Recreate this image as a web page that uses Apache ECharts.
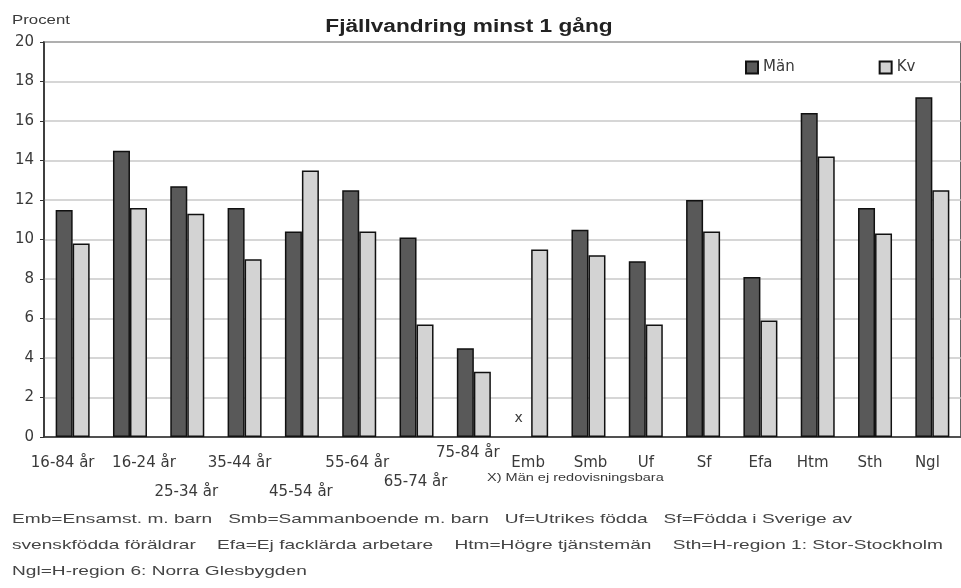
<!DOCTYPE html>
<html>
<head>
<meta charset="utf-8">
<script src="https://cdn.jsdelivr.net/npm/echarts@6/dist/echarts.min.js"></script>
<style>
  html, body { margin: 0; padding: 0; background: #fff; }
  #chart { width: 961px; height: 588px; }
</style>
</head>
<body>
<div id="chart"></div>
<script>
// Andel som vandrat i fjällen minst en gång, procent
const categories = ['16-84 år', '16-24 år', '25-34 år', '35-44 år', '45-54 år', '55-64 år', '65-74 år', '75-84 år',
                    'Emb', 'Smb', 'Uf', 'Sf', 'Efa', 'Htm', 'Sth', 'Ngl'];
const man = [11.5, 14.5, 12.7, 11.6, 10.4, 12.5, 10.1, 4.5, null, 10.5, 8.9, 12.0, 8.1, 16.4, 11.6, 17.2];
const kv  = [9.8, 11.6, 11.3, 9.0, 13.5, 10.4, 5.7, 3.3, 9.5, 9.2, 5.7, 10.4, 5.9, 14.2, 10.3, 12.5];
const yTicks = [0, 2, 4, 6, 8, 10, 12, 14, 16, 18, 20];
const seriesNames = ['Män', 'Kv'];
const missingMark = 'x';

const titleText = 'Fjällvandring minst 1 gång';
const unitText = 'Procent';
const missingNote = 'X) Män ej redovisningsbara';
const footnotes = [
  'Emb=Ensamst. m. barn   Smb=Sammanboende m. barn   Uf=Utrikes födda   Sf=Födda i Sverige av',
  'svenskfödda föräldrar    Efa=Ej facklärda arbetare    Htm=Högre tjänstemän    Sth=H-region 1: Stor-Stockholm',
  'Ngl=H-region 6: Norra Glesbygden'
];

// Label placement: [dx, dy] per category (staggered rows)
const labelShift = {
  '16-84 år': [-10, 0], '16-24 år': [14, 0], '25-34 år': [-1, 29], '35-44 år': [-5, 0],
  '45-54 år': [-1, 29], '55-64 år': [-2, 0], '65-74 år': [-1, 19], '75-84 år': [-6, -10],
  'Emb': [-3, 0], 'Smb': [2, 0], 'Sf': [1, 0], 'Htm': [-5, 0], 'Sth': [-5, 0], 'Ngl': [-5, 0]
};
const baseTop = 19;

const font = '"Liberation Sans", Arial, sans-serif';
const axisFont = '"DejaVu Sans", Verdana, sans-serif';
const textColor = '#3a3a3a';

const xData = categories.map(function (c) {
  const s = labelShift[c] || [0, 0];
  const dx = s[0], dy = s[1];
  return {
    value: c,
    textStyle: {
      padding: [baseTop + dy, dx < 0 ? -2 * dx : 0, 0, dx > 0 ? 2 * dx : 0]
    }
  };
});

const manData = man.map(function (v) {
  if (v === null) {
    return {
      value: 0,
      itemStyle: { borderWidth: 0, color: 'rgba(0,0,0,0)' },
      label: { show: true, formatter: missingMark, position: 'top', distance: 12, offset: [-4, 0],
               fontSize: 14, color: textColor, fontFamily: axisFont }
    };
  }
  return v;
});

const chart = echarts.init(document.getElementById('chart'), null, { renderer: 'canvas' });
chart.setOption({
  backgroundColor: '#ffffff',
  animation: false,
  legend: {
    data: seriesNames,
    left: 745, top: 60, padding: 0,
    itemWidth: 12, itemHeight: 12, itemGap: 84,
    icon: 'rect',
    textStyle: { fontFamily: axisFont, fontSize: 15, color: textColor }
  },
  grid: {
    left: 44, width: 928, top: 42, bottom: 151,
    show: true, borderColor: '#333', borderWidth: 1.5, backgroundColor: 'transparent'
  },
  xAxis: {
    type: 'category',
    data: xData,
    axisLine: { show: true, lineStyle: { color: '#333', width: 1.5 } },
    axisTick: { show: false },
    axisLabel: { interval: 0, margin: 0, fontFamily: axisFont, fontSize: 15, color: textColor,
                 verticalAlign: 'top' }
  },
  yAxis: {
    type: 'value',
    min: yTicks[0], max: yTicks[yTicks.length - 1], interval: 2,
    axisLine: { show: true, lineStyle: { color: '#333', width: 1.5 } },
    axisTick: { show: true, length: 4, lineStyle: { color: '#333' } },
    axisLabel: { fontFamily: axisFont, fontSize: 15, color: textColor, margin: 10 },
    splitLine: { lineStyle: { color: '#c8c8c8', width: 1.5 } }
  },
  series: [
    {
      name: seriesNames[0], type: 'bar', data: manData,
      barWidth: 17, barGap: '0%',
      itemStyle: { color: '#595959', borderColor: '#111', borderWidth: 1.5 }
    },
    {
      name: seriesNames[1], type: 'bar', data: kv,
      barWidth: 17,
      itemStyle: { color: '#d3d3d3', borderColor: '#111', borderWidth: 1.5 }
    }
  ],
  graphic: [
    { type: 'text', x: 469, y: 18, scaleX: 1.26,
      style: { text: titleText, font: 'bold 18px ' + font, fill: '#222', align: 'center', verticalAlign: 'top' } },
    { type: 'text', x: 12, y: 15, scaleX: 1.4,
      style: { text: unitText, font: '12px ' + font, fill: textColor, verticalAlign: 'top' } },
    { type: 'text', x: 487, y: 472, scaleX: 1.32,
      style: { text: missingNote, font: '11px ' + font, fill: textColor, verticalAlign: 'top' } }
  ].concat(footnotes.map(function (t, i) {
    return { type: 'text', x: 12, y: 513 + i * 26, scaleX: 1.47,
             style: { text: t, font: '13px ' + font, fill: '#444', verticalAlign: 'top' } };
  }))
});
</script>
</body>
</html>
